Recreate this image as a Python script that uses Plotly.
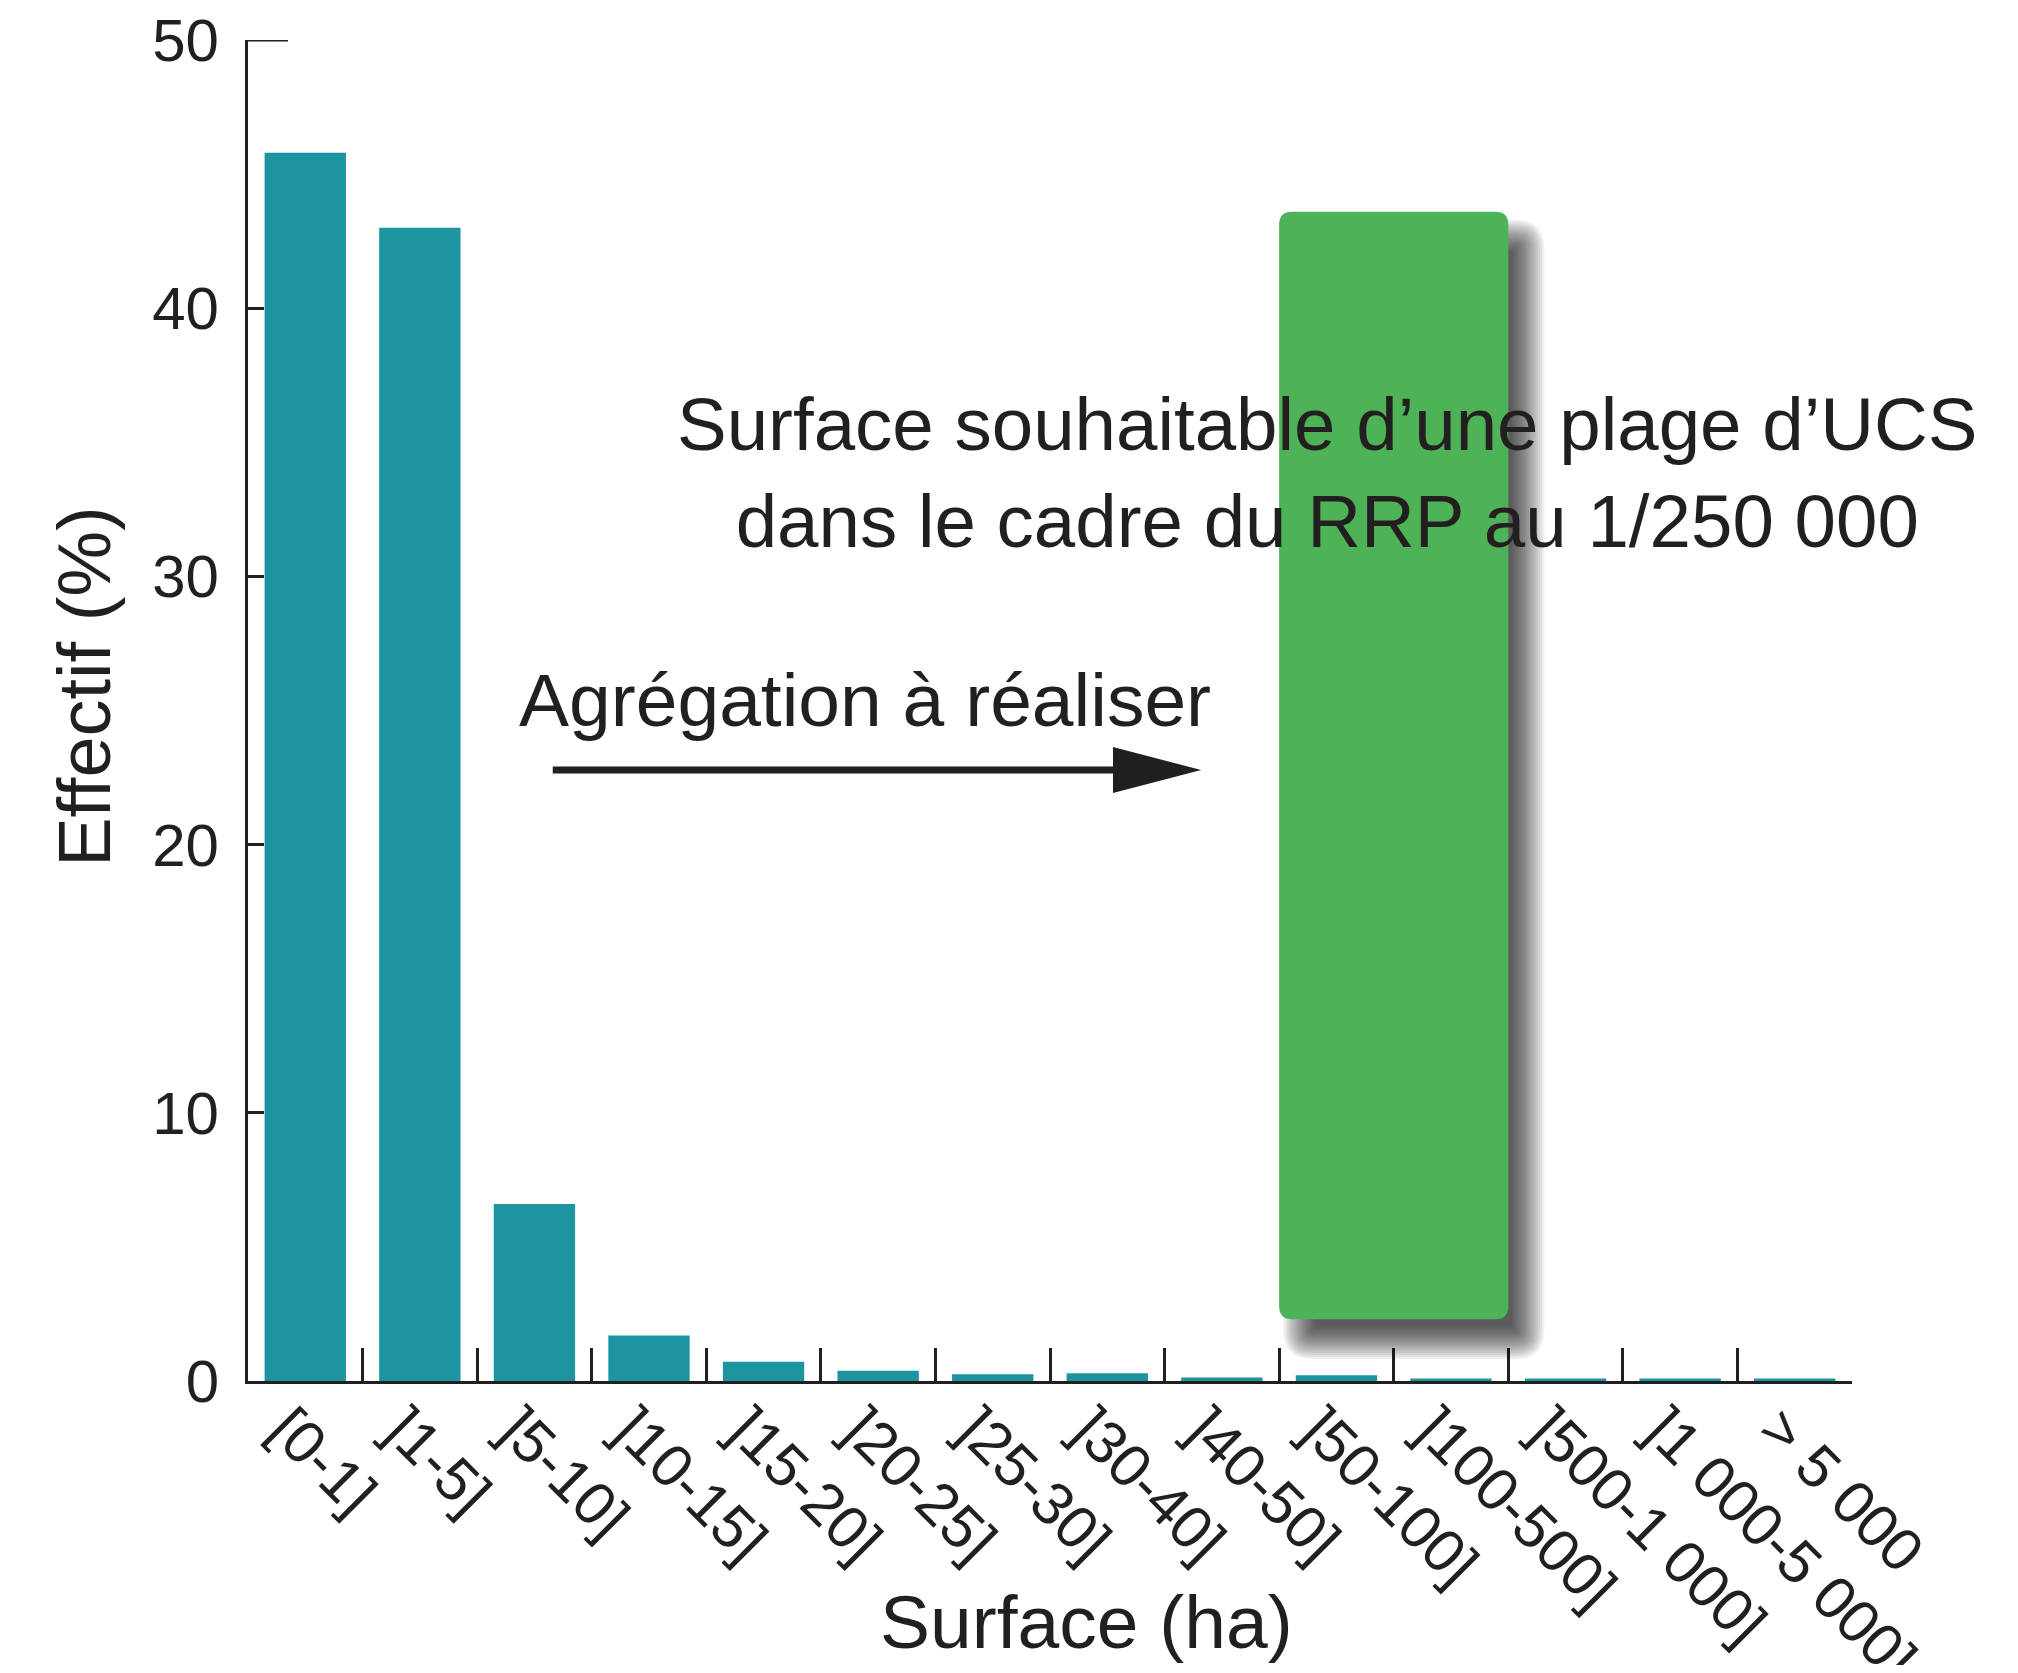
import plotly.graph_objects as go

# ---------------- data ----------------
categories = ["[0-1]", "]1-5]", "]5-10]", "]10-15]", "]15-20]", "]20-25]", "]25-30]",
              "]30-40]", "]40-50]", "]50-100]", "]100-500]", "]500-1 000]",
              "]1 000-5 000]", "> 5 000"]
effectif_pct = [45.8, 43.0, 6.6, 1.7, 0.72, 0.38, 0.25, 0.29, 0.13, 0.21, 0.09, 0.09, 0.09, 0.09]
y_ticks = [0, 10, 20, 30, 40, 50]

# highlighted class range and its vertical extent (%)
target_first, target_last = "]50-100]", "]100-500]"
target_low, target_high = 2.3, 43.6

# ---------------- style ----------------
TEAL = "#1c95a0"
GREEN = "#4eb257"
INK = "#231f20"
FONT = "Liberation Sans, Arial, Helvetica, sans-serif"

W, H = 2002, 1657
L, R, T, B = 240, 158, 32, 284
plot_w, plot_h = W - L - R, H - T - B
n = len(categories)
ux = n / plot_w          # x data units per pixel
uy = 50 / plot_h         # y data units per pixel

fig = go.Figure()
fig.add_trace(go.Bar(x=categories, y=effectif_pct, marker_color=TEAL,
                     marker_line_width=0, showlegend=False, hoverinfo="x+y"))
# helper linear axis overlaying the category axis (for drawing shapes)
fig.add_trace(go.Scatter(x=[-0.5, n - 0.5], y=[0, 0], xaxis="x2", yaxis="y",
                         mode="markers", marker=dict(size=1, opacity=0),
                         showlegend=False, hoverinfo="skip"))


def rrect(x0, x1, y0, y1, r_px):
    rx, ry = r_px * ux, r_px * uy
    return (f"M{x0+rx},{y1} L{x1-rx},{y1} Q{x1},{y1} {x1},{y1-ry} "
            f"L{x1},{y0+ry} Q{x1},{y0} {x1-rx},{y0} L{x0+rx},{y0} "
            f"Q{x0},{y0} {x0},{y0+ry} L{x0},{y1-ry} Q{x0},{y1} {x0+rx},{y1} Z")


gx0 = categories.index(target_first) - 0.5
gx1 = categories.index(target_last) + 0.5
shapes = []

# soft drop shadow (stacked translucent rounded rectangles)
dx, dy, blur, layers = 20, 24, 32, 16
for k in range(layers):
    e = blur * (0.5 - k / (layers - 1))
    shapes.append(dict(
        type="path", xref="x2", yref="y",
        path=rrect(gx0 + (dx - e) * ux, gx1 + (dx + e) * ux,
                   target_low - (dy + e) * uy, target_high - (dy - e) * uy,
                   max(13 + e, 2)),
        fillcolor="rgba(0,0,0,0.058)", line=dict(width=0), layer="above"))

shapes.append(dict(type="path", xref="x2", yref="y",
                   path=rrect(gx0, gx1, target_low, target_high, 13),
                   fillcolor=GREEN, line=dict(width=0), layer="above"))

# arrow "Agrégation à réaliser"
ax0, ax_base, ax_tip, ay = 2.16, 7.05, 7.82, 22.78
head_half = 23 * uy
shapes.append(dict(type="line", xref="x2", yref="y", x0=ax0, x1=ax_base + 0.05,
                   y0=ay, y1=ay, line=dict(color=INK, width=7)))
shapes.append(dict(type="path", xref="x2", yref="y",
                   path=f"M{ax_base},{ay+head_half} L{ax_tip},{ay} L{ax_base},{ay-head_half} Z",
                   fillcolor=INK, line=dict(width=0)))

# top cap of the y axis
shapes.append(dict(type="line", xref="paper", yref="y", x0=0, x1=40 / plot_w,
                   y0=50, y1=50, line=dict(color=INK, width=3)))

annotations = [
    dict(text="Surface souhaitable d’une plage d’UCS<br>dans le cadre du RRP au 1/250 000",
         xref="x2", yref="y", x=8.92, y=33.85, xanchor="center", yanchor="middle",
         showarrow=False, align="center", font=dict(family=FONT, size=74.5, color=INK)),
    dict(text="Agrégation à réaliser", xref="x2", yref="y", x=4.885, y=25.4,
         xanchor="center", yanchor="middle", showarrow=False,
         font=dict(family=FONT, size=75, color=INK)),
    dict(text="Effectif (%)", xref="paper", yref="paper", x=-0.102, y=0.518,
         xanchor="center", yanchor="middle", textangle=-90, showarrow=False,
         font=dict(family=FONT, size=74, color=INK)),
    dict(text="Surface (ha)", xref="paper", yref="paper", x=0.523, y=-0.180,
         xanchor="center", yanchor="middle", showarrow=False,
         font=dict(family=FONT, size=75, color=INK)),
]

fig.update_layout(
    width=W, height=H,
    margin=dict(l=L, r=R, t=T, b=B, autoexpand=False),
    paper_bgcolor="white", plot_bgcolor="white",
    bargap=0.29,
    showlegend=False,
    font=dict(family=FONT, color=INK),
    xaxis=dict(type="category", range=[-0.5, n - 0.5], showline=True, linecolor=INK,
               linewidth=3, ticks="inside", ticklen=33, tickwidth=2.5, tickcolor=INK,
               tickson="boundaries", tickangle=45, showgrid=False, zeroline=False,
               ticklabelshift=-18, ticklabelstandoff=-14, ticklabeloverflow="allow",
               tickfont=dict(family=FONT, size=60, color=INK), automargin=False),
    xaxis2=dict(overlaying="x", range=[-0.5, n - 0.5], visible=False, showgrid=False,
                zeroline=False),
    yaxis=dict(range=[0, 50], tickvals=y_ticks, showline=True, linecolor=INK,
               linewidth=3, ticks="inside", ticklen=16, tickwidth=3, tickcolor=INK,
               showgrid=False, zeroline=False, ticklabelstandoff=14,
               ticklabeloverflow="allow",
               tickfont=dict(family=FONT, size=60, color=INK), automargin=False),
    shapes=shapes,
    annotations=annotations,
)

fig.write_html("out.html")
